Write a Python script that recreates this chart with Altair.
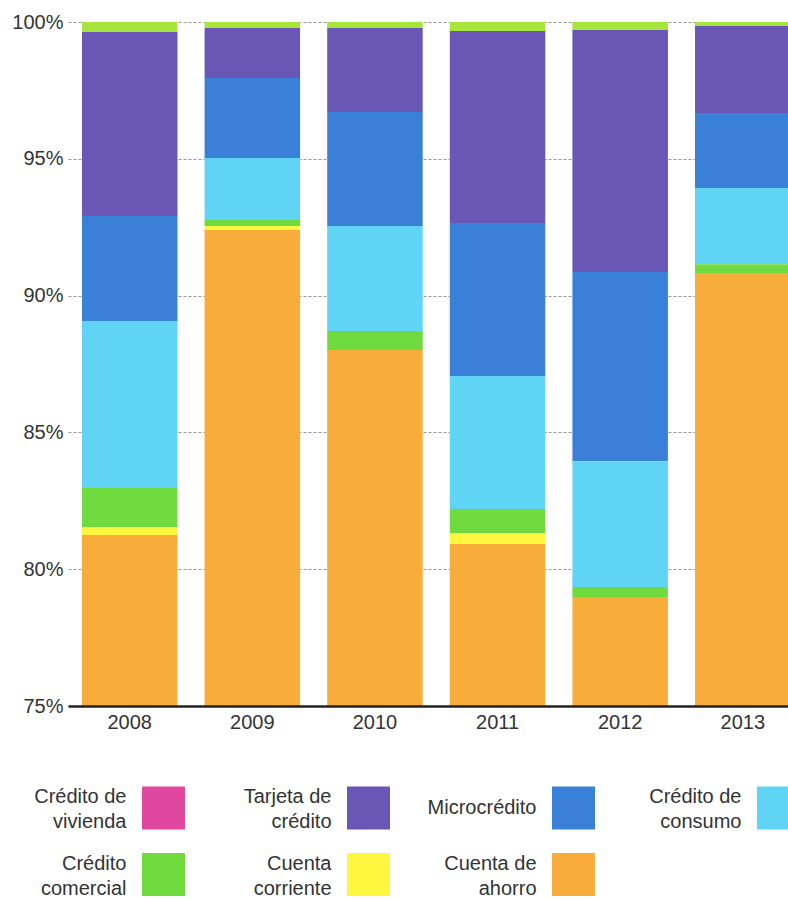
import altair as alt
import pandas as pd

years = ["2008", "2009", "2010", "2011", "2012", "2013"]
series = ["Crédito de vivienda", "Tarjeta de crédito", "Microcrédito",
          "Crédito de consumo", "Crédito comercial", "Cuenta corriente",
          "Cuenta de ahorro"]

# percentage share per year
vivienda = [0.37, 0.22, 0.22, 0.33, 0.29, 0.15]
tarjeta = [6.72, 1.83, 3.07, 7.02, 8.85, 3.18]
micro = [3.84, 2.92, 4.17, 5.59, 6.91, 2.74]
consumo = [6.10, 2.27, 3.83, 4.86, 4.60, 2.78]
comercial = [1.43, 0.22, 0.70, 0.88, 0.37, 0.32]
corriente = [0.29, 0.14, 0.00, 0.40, 0.00, 0.00]
ahorro = [81.25, 92.40, 88.01, 80.92, 78.98, 90.83]

bar_colors = ["#a6e63c", "#6a56b4", "#3a80d8", "#5fd4f5", "#6fdb3f", "#fdf83f", "#f8ad3b"]
legend_colors = ["#e0479e", "#6a56b4", "#3a80d8", "#5fd4f5", "#6fdb3f", "#fdf83f", "#f8ad3b"]
legend_labels = ["Crédito de\nvivienda", "Tarjeta de\ncrédito", "Microcrédito",
                 "Crédito de\nconsumo", "Crédito\ncomercial", "Cuenta\ncorriente",
                 "Cuenta de\nahorro"]
legend_col = [0, 1, 2, 3, 0, 1, 2]
legend_row = [0, 0, 0, 0, 1, 1, 1]

values = [vivienda, tarjeta, micro, consumo, comercial, corriente, ahorro]
rows = []
for si, s in enumerate(series):
    for yi, y in enumerate(years):
        rows.append({"year": y, "serie": s, "value": values[si][yi],
                     "orden": len(series) - 1 - si})
df = pd.DataFrame(rows)

leg = pd.DataFrame({"label": legend_labels, "col": legend_col,
                    "row": legend_row, "color": legend_colors})

bars = alt.Chart(df).mark_bar(clip=True).encode(
    x=alt.X("year:N", sort=years,
            scale=alt.Scale(range=[0, 736.5], paddingInner=0.221, paddingOuter=0.114),
            axis=alt.Axis(title=None, labelAngle=0, ticks=False, domain=True,
                          domainColor="#222", domainWidth=2.5, labelFontSize=20,
                          labelColor="#333", labelPadding=6, zindex=1)),
    y=alt.Y("value:Q", stack="zero",
            scale=alt.Scale(domain=[75, 100], nice=False, zero=False),
            axis=alt.Axis(title=None, values=[75, 80, 85, 90, 95, 100],
                          labelExpr="datum.value + '%'", ticks=False, domain=False,
                          grid=True, gridDash=[3, 2], gridColor="#999", gridWidth=1,
                          labelFontSize=20, labelColor="#333", labelPadding=5)),
    color=alt.Color("serie:N", scale=alt.Scale(domain=series, range=bar_colors), legend=None),
    order=alt.Order("orden:Q"),
)

xs = alt.X("col:Q", scale=alt.Scale(domain=[0, 3], range=[95.5, 710.5]), axis=None)
ys = alt.Y("row:Q", scale=alt.Scale(domain=[0, 1], range=[786, 852.5]), axis=None)

squares = alt.Chart(leg).mark_square(size=1849, opacity=1, filled=True).encode(
    x=xs, y=ys, color=alt.Color("color:N", scale=None)
)
texts_two = alt.Chart(leg).transform_filter(
    "indexof(datum.label, '\\n') >= 0"
).mark_text(align="right", baseline="middle", dx=-37, dy=-11, fontSize=20,
            lineBreak="\n", lineHeight=25, color="#333").encode(
    x=xs, y=ys, text="label:N"
)
texts_one = alt.Chart(leg).transform_filter(
    "indexof(datum.label, '\\n') < 0"
).mark_text(align="right", baseline="middle", dx=-37, fontSize=20,
            color="#333").encode(
    x=xs, y=ys, text="label:N"
)

chart = alt.layer(bars, squares, texts_two, texts_one).resolve_scale(
    x="independent", y="independent", color="independent"
).properties(
    width=720, height=684,
    autosize=alt.AutoSizeParams(type="none"),
    padding={"left": 68, "top": 22, "right": 0, "bottom": 193},
).configure(font="Liberation Sans").configure_view(stroke=None)

chart.save("out.html", embed_options={"renderer": "svg", "actions": False})
